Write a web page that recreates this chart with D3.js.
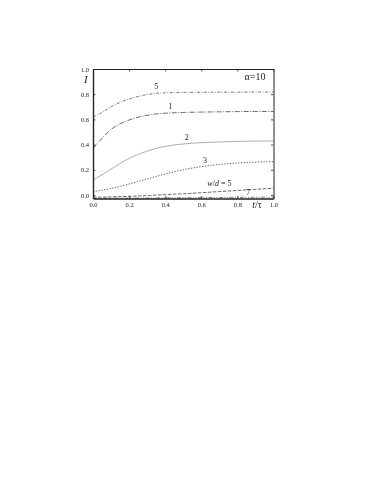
<!DOCTYPE html>
<html><head><meta charset="utf-8">
<script src="https://cdn.jsdelivr.net/npm/d3@7"></script>
<style>body{margin:0;background:#fff}svg{display:block;will-change:transform}text{font-family:"Liberation Serif","DejaVu Serif",serif;fill:#222}</style>
</head><body><svg id="c" width="374" height="484"></svg>
<script>
const tValues = [0, 0.05, 0.1, 0.15, 0.2, 0.25, 0.3, 0.35, 0.4, 0.5, 0.6, 0.7, 0.8, 0.9, 1.0];
const curve5 = [0.62, 0.655, 0.70, 0.735, 0.762, 0.782, 0.797, 0.806, 0.811, 0.814, 0.815, 0.816, 0.816, 0.817, 0.817];
const curve1 = [0.37, 0.45, 0.52, 0.565, 0.595, 0.617, 0.632, 0.643, 0.649, 0.655, 0.658, 0.660, 0.662, 0.663, 0.663];
const curve2 = [0.119, 0.16, 0.205, 0.25, 0.29, 0.322, 0.348, 0.37, 0.386, 0.405, 0.415, 0.421, 0.425, 0.428, 0.429];
const curve3 = [0.026, 0.038, 0.052, 0.068, 0.087, 0.107, 0.127, 0.147, 0.166, 0.2, 0.225, 0.242, 0.254, 0.261, 0.265];
const curveW5 = [-0.018, -0.017, -0.015, -0.013, -0.011, -0.008, -0.005, -0.001, 0.003, 0.01, 0.018, 0.027, 0.036, 0.045, 0.053];
const curve7 = [-0.026, -0.026, -0.026, -0.025, -0.025, -0.025, -0.024, -0.024, -0.023, -0.022, -0.021, -0.020, -0.019, -0.018, -0.018];
const xTicks = [0, 0.2, 0.4, 0.6, 0.8, 1.0];
const yTicks = [0, 0.2, 0.4, 0.6, 0.8, 1.0];
const curveLabels = ["5", "1", "2", "3", "w/d = 5", "7"];

const svg = d3.select("#c");
const x = d3.scaleLinear().domain([0, 1]).range([93, 273.5]);
const y = d3.scaleLinear().domain([-0.028, 1]).range([198.5, 69]);

const series = [
  {v: curve5, dash: "3,1.5,0.8,1.5", w: 0.8, c: "#555"},
  {v: curve1, dash: "5,1.5,1,1.5", w: 0.8, c: "#444"},
  {v: curve2, dash: null, w: 0.6, c: "#777"},
  {v: curve3, dash: "1.2,1.6", w: 0.9, c: "#444"},
  {v: curveW5, dash: "3.5,1.5", w: 0.8, c: "#444"},
  {v: curve7, dash: "4,1.5,1,1.5,1,1.5", w: 0.8, c: "#555"}
];
const line = d3.line().x(d => x(d[0])).y(d => y(d[1])).curve(d3.curveMonotoneX);
series.forEach(s => {
  svg.append("path").datum(tValues.map((t, i) => [t, s.v[i]]))
    .attr("d", line).attr("fill", "none").attr("stroke", s.c)
    .attr("stroke-width", s.w).attr("stroke-dasharray", s.dash);
});

// axes (ticks inward)
const fmt = d3.format(".1f");
const gB = svg.append("g").attr("transform", `translate(0,${y.range()[0]})`)
  .call(d3.axisBottom(x).tickValues(xTicks).tickSizeInner(-2.5).tickSizeOuter(0).tickPadding(5).tickFormat(fmt));
const gT = svg.append("g").attr("transform", `translate(0,${y.range()[1]})`)
  .call(d3.axisTop(x).tickValues(xTicks).tickSizeInner(-2.5).tickSizeOuter(0).tickFormat(""));
const gL = svg.append("g").attr("transform", `translate(${x.range()[0]},0)`)
  .call(d3.axisLeft(y).tickValues(yTicks).tickSizeInner(-2.5).tickSizeOuter(0).tickPadding(4).tickFormat(fmt));
const gR = svg.append("g").attr("transform", `translate(${x.range()[1]},0)`)
  .call(d3.axisRight(y).tickValues(yTicks).tickSizeInner(-2.5).tickSizeOuter(0).tickFormat(""));
[gB, gT, gL, gR].forEach(g => {
  g.select(".domain").attr("stroke", "#222").attr("stroke-width", 1);
  g.selectAll(".tick line").attr("stroke", "#222").attr("stroke-width", 0.8);
  g.selectAll(".tick text").attr("font-size", 6.5).attr("fill", "#222")
    .attr("font-family", "Liberation Serif, serif");
});
gB.select(".domain").attr("stroke-width", 1.4);
gL.select(".domain").attr("stroke-width", 1.4);
gB.selectAll(".tick text").attr("dy", "0.5em");

// axis titles
svg.append("text").attr("x", 84).attr("y", 83).attr("font-size", 11).attr("font-style", "italic").text("I");
svg.append("text").attr("x", 257).attr("y", 208).attr("font-size", 10).attr("text-anchor", "middle")
  .html('<tspan font-style="italic">t</tspan>/τ');
svg.append("text").attr("x", 255).attr("y", 80).attr("font-size", 10).attr("text-anchor", "middle").text("α=10");

// curve labels
const labelPos = [[tValues[7], curve5[7]], [tValues[9] - 0.07, curve1[9]], [tValues[9] + 0.02, curve2[9]], [tValues[10] + 0.02, curve3[10]], [tValues[12] - 0.1, curveW5[12]], [tValues[13] - 0.04, curve7[13]]];
const labelOff = [-4, -3.5, -3.5, -3.5, -4, -2];
labelPos.forEach((p, i) => {
  const t = svg.append("text").attr("x", x(p[0])).attr("y", y(p[1]) + labelOff[i])
    .attr("font-size", 8).attr("text-anchor", "middle");
  if (i === 4) t.html('<tspan font-style="italic">w</tspan>/<tspan font-style="italic">d</tspan> = 5');
  else t.text(curveLabels[i]);
});
</script></body></html>
